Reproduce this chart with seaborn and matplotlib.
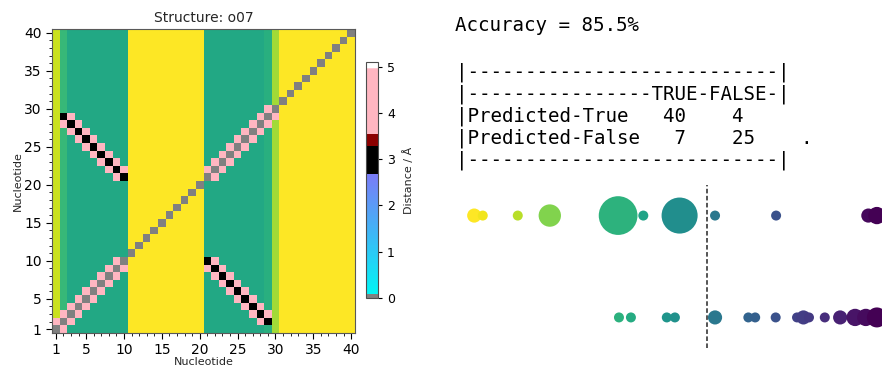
import numpy as np
import pandas as pd
import matplotlib
matplotlib.use("Agg")
import matplotlib.pyplot as plt
from matplotlib.colors import LinearSegmentedColormap
import seaborn as sns

# ---------------- data ----------------
nucleotides = list(range(1, 41))

# per-nucleotide background score (viridis stripes)
column_score = [0.92, 0.67, 0.60, 0.60, 0.60, 0.60, 0.60, 0.60, 0.60, 0.60,
                1.00, 1.00, 1.00, 1.00, 1.00, 1.00, 1.00, 1.00, 1.00, 1.00,
                0.60, 0.60, 0.60, 0.60, 0.60, 0.60, 0.60, 0.60, 0.63, 0.86,
                1.00, 1.00, 1.00, 1.00, 1.00, 1.00, 1.00, 1.00, 1.00, 1.00]

# base pairs of the hairpin stem (5' partner, 3' partner, distance in Å)
pair_5p = [2, 3, 4, 5, 6, 7, 8, 9, 10]
pair_3p = [29, 28, 27, 26, 25, 24, 23, 22, 21]
pair_dist = [3.0, 3.0, 3.0, 3.0, 3.0, 3.0, 3.0, 3.0, 3.0]

# sequential neighbours inside the stems (i, i+1)
step_i = [1, 2, 3, 4, 5, 6, 7, 8, 9, 21, 22, 23, 24, 25, 26, 27, 28, 29]
step_dist = [4.2, 4.2, 4.2, 4.2, 4.2, 4.2, 4.2, 4.2, 4.2,
             4.2, 4.2, 4.2, 4.2, 4.2, 4.2, 4.2, 4.2, 4.2]

# cross-strand neighbours of the base pairs
cross_i = [3, 4, 5, 6, 7, 8, 9, 10, 2, 3, 4, 5, 6, 7, 8, 9]
cross_j = [29, 28, 27, 26, 25, 24, 23, 22, 28, 27, 26, 25, 24, 23, 22, 21]
cross_dist = [4.4, 4.4, 4.4, 4.4, 4.4, 4.4, 4.4, 4.4,
              4.4, 4.4, 4.4, 4.4, 4.4, 4.4, 4.4, 4.4]

# classifier summary
accuracy = 85.5
conf_tt, conf_tf, conf_ft, conf_ff = 40, 4, 7, 25

# score distribution of the two classes (score, count)
upper_score = [0.045, 0.065, 0.147, 0.222, 0.382, 0.441, 0.526, 0.609, 0.752, 0.968, 0.988]
upper_count = [2, 1, 1, 5, 15, 1, 13, 1, 1, 2, 3]
lower_score = [0.384, 0.412, 0.496, 0.515, 0.609, 0.687, 0.703, 0.751,
               0.801, 0.816, 0.829, 0.866, 0.902, 0.937, 0.962, 0.988]
lower_count = [1, 1, 1, 1, 2, 1, 1, 1, 1, 2, 1, 1, 2, 3, 3, 4]
threshold = 0.589

# ---------------- figure ----------------
sns.set_style("ticks")
plt.rcParams["font.family"] = ["DejaVu Sans"]

W, H = 882, 367
fig = plt.figure(figsize=(W / 100, H / 100), dpi=100)

# ---- contact map ----
n = len(nucleotides)
order = nucleotides[::-1]  # nucleotide 40 on top row

bg = pd.DataFrame(np.tile(column_score, (n, 1)), index=order, columns=nucleotides)

dist = pd.DataFrame(np.nan, index=nucleotides, columns=nucleotides)
for k in nucleotides:
    dist.loc[k, k] = 0.0
for a, b, d in zip(pair_5p, pair_3p, pair_dist):
    dist.loc[a, b] = d
    dist.loc[b, a] = d
for a, d in zip(step_i, step_dist):
    dist.loc[a, a + 1] = d
    dist.loc[a + 1, a] = d
for a, b, d in zip(cross_i, cross_j, cross_dist):
    dist.loc[a, b] = d
    dist.loc[b, a] = d
dist = dist.loc[order, nucleotides]

vmax = 5.1
nodes = [(0.00, "#808080"), (0.07, "#808080"), (0.071, "#00f5f5"),
         (2.68, "#7b7bf7"), (2.681, "#000000"), (3.28, "#000000"),
         (3.281, "#8b0000"), (3.55, "#8b0000"), (3.551, "#ffb6c1"),
         (4.96, "#ffb6c1"), (4.961, "#ffffff"), (vmax, "#ffffff")]
dist_cmap = LinearSegmentedColormap.from_list(
    "distance", [(v / vmax, c) for v, c in nodes], N=512)

ax = fig.add_axes([52 / W, 1 - 333 / H, 303 / W, 304 / H])
cax = fig.add_axes([366 / W, 1 - 298 / H, 12 / W, 236 / H])

sns.heatmap(bg, ax=ax, cmap="viridis", vmin=0, vmax=1, cbar=False,
            xticklabels=False, yticklabels=False)
sns.heatmap(dist, ax=ax, cmap=dist_cmap, vmin=0, vmax=vmax,
            mask=dist.isna(), cbar=True, cbar_ax=cax,
            xticklabels=False, yticklabels=False,
            cbar_kws={"ticks": [0, 1, 2, 3, 4, 5]})

major = [1, 5, 10, 15, 20, 25, 30, 35, 40]
ax.set_xticks([m - 0.5 for m in major])
ax.set_xticklabels([str(m) for m in major], rotation=0)
ax.set_xticks([m - 0.5 for m in nucleotides], minor=True)
ax.set_yticks([n + 0.5 - m for m in major])
ax.set_yticklabels([str(m) for m in major], rotation=0)
ax.set_yticks([n + 0.5 - m for m in nucleotides], minor=True)
ax.tick_params(which="major", length=4, width=0.8, labelsize=10, colors="black")
ax.tick_params(which="minor", length=2, width=0.6, colors="black")
for sp in ax.spines.values():
    sp.set_visible(True)
    sp.set_linewidth(0.8)
    sp.set_color("0.35")
ax.set_title("Structure: o07", fontsize=10, pad=5)
ax.set_xlabel("Nucleotide", fontsize=8, labelpad=0)
ax.set_ylabel("Nucleotide", fontsize=8, labelpad=1)

cb = ax.collections[-1].colorbar
cb.outline.set_visible(True)
cb.outline.set_linewidth(0.8)
cb.outline.set_edgecolor("0.3")
cb.ax.tick_params(labelsize=9, length=3, width=0.8, colors="black")
cb.set_label("Distance / Å", fontsize=8, labelpad=6)

# ---- text summary ----
mono = {"family": "DejaVu Sans Mono", "fontsize": 13.8, "color": "black"}
fig.text(455 / W, 1 - 31 / H, f"Accuracy = {accuracy}%", va="baseline", **mono)
table_lines = [
    "|" + "-" * 27 + "|",
    "|" + "-" * 16 + "TRUE-FALSE-|",
    f"|Predicted-True   {conf_tt:>2}    {conf_tf:<2}",
    f"|Predicted-False  {conf_ft:>2}    {conf_ff:<2}    .",
    "|" + "-" * 27 + "|",
]
for k, line in enumerate(table_lines):
    fig.text(456 / W, 1 - (78 + 22 * k) / H, line, va="baseline", **mono)

# ---- score distribution ----
scores = pd.DataFrame({
    "score": upper_score + lower_score,
    "row": [1] * len(upper_score) + [0] * len(lower_score),
    "count": upper_count + lower_count,
}).sort_values("score")

ax2 = fig.add_axes([455 / W, 19 / H, 427 / W, 163 / H])
s1 = (10.0 / 1.389) ** 2
sns.scatterplot(data=scores, x="score", y="row", hue="score", palette="viridis_r",
                hue_norm=(scores["score"].min(), scores["score"].max()),
                size="count", sizes=(s1, 15 * s1), size_norm=(1, 15),
                linewidth=0, alpha=1, legend=False, ax=ax2)
ax2.axvline(threshold, color="0.15", linestyle=(0, (3, 1.6)), linewidth=1.1)
ax2.set_xlim(0, 1)
ax2.set_ylim(-0.3, 1.3)
ax2.axis("off")

fig.savefig("out.png", dpi=100)
